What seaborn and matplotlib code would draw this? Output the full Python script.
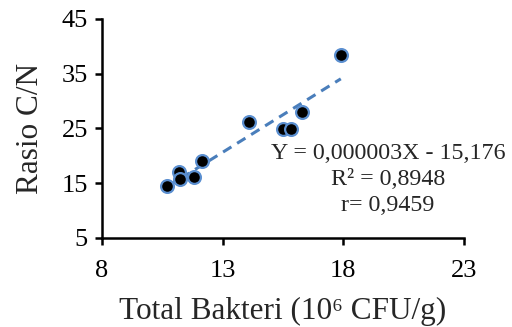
import seaborn as sns
import pandas as pd
import matplotlib.pyplot as plt

# values
bakteri = [10.7, 11.2, 11.23, 11.8, 12.13, 14.1, 15.5, 15.85, 16.3, 17.9]
rasio_cn = [14.4, 17.0, 15.8, 16.1, 19.0, 26.1, 24.85, 24.85, 27.9, 38.5]
x_ticks = [8, 13, 18, 23]
y_ticks = [5, 15, 25, 35, 45]

df = pd.DataFrame({'bakteri': bakteri, 'rasio': rasio_cn})

sns.set_style('ticks')
plt.rcParams['font.family'] = ['Liberation Serif', 'DejaVu Serif']

fig = plt.figure(figsize=(5.12, 3.27), dpi=100)
ax = fig.add_axes([0.199, 0.273, 0.707, 0.669])

blue = '#4a7ebb'
sns.regplot(data=df, x='bakteri', y='rasio', ax=ax, ci=None,
            scatter_kws=dict(s=85, color='black', edgecolors='#5b8fd0', linewidths=1.6, alpha=1, zorder=3),
            line_kws=dict(color=blue, lw=2.2, ls=(0, (3.2, 2.2)), zorder=2))

ax.set_xlim(8, 23)
ax.set_ylim(5, 45)
ax.set_xticks(x_ticks)
ax.set_yticks(y_ticks)
ax.tick_params(labelsize=19, width=1.8, length=5, direction='out', colors='black')
ax.tick_params(axis='x', pad=11)
ax.tick_params(axis='y', pad=5)
for s in ['left', 'bottom']:
    ax.spines[s].set_linewidth(1.8)
    ax.spines[s].set_color('black')
sns.despine(ax=ax)

ax.set_xlabel('Total Bakteri (10⁶ CFU/g)', fontsize=22.5, labelpad=11)
ax.set_ylabel('Rasio C/N', fontsize=22.5, labelpad=12)

ax.text(19.85, 15.6, 'Y = 0,000003X - 15,176\nR² = 0,8948\nr= 0,9459',
        ha='center', va='center', multialignment='center', fontsize=17.3, linespacing=1.32)

fig.savefig('out.png', dpi=100)
